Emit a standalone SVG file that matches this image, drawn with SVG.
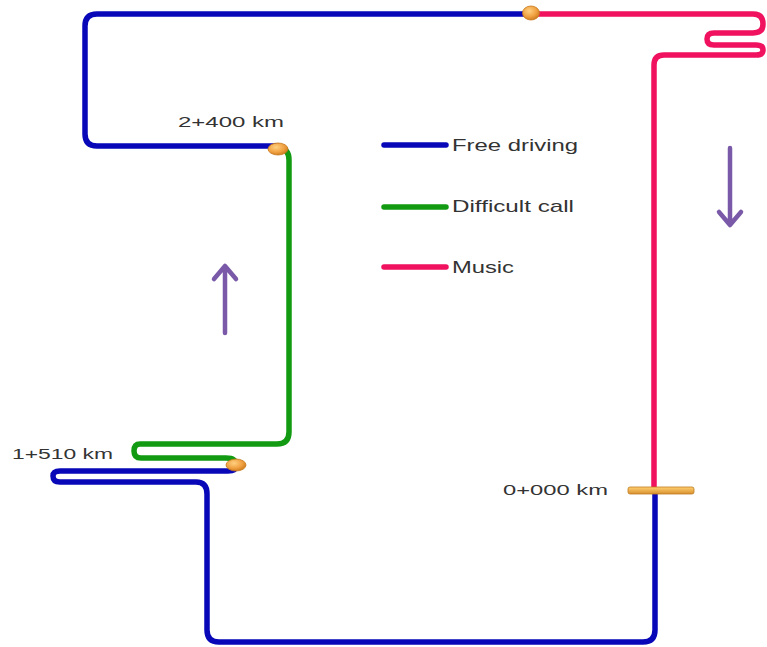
<svg xmlns="http://www.w3.org/2000/svg" width="767" height="647" viewBox="0 0 767 647">
<style>
.rd{fill:none;stroke-width:5.5;stroke-linecap:round;stroke-linejoin:round}
.b{stroke:#0808b8}.g{stroke:#129a12}.p{stroke:#f0125e}
.t{font-family:"Liberation Sans",Arial,sans-serif;font-size:15px;fill:#333}
.lg{font-size:17px}
.ar{fill:none;stroke:#7a5aa8;stroke-width:4.5;stroke-linecap:round;stroke-linejoin:round}
.ball{fill:url(#og);stroke:#c8781a;stroke-width:0.8}
</style>
<defs>
<radialGradient id="og" cx="0.4" cy="0.35" r="0.7">
<stop offset="0" stop-color="#ffd080"/><stop offset="0.6" stop-color="#f0a040"/><stop offset="1" stop-color="#c87818"/>
</radialGradient>
<linearGradient id="bar" x1="0" y1="0" x2="0" y2="1">
<stop offset="0" stop-color="#ffd070"/><stop offset="1" stop-color="#d89030"/>
</linearGradient>
</defs>
<g id="connectors">
<path class="rd b" d="M530,14 H97 Q85,14 85,26 V134 Q85,146 97,146 H278"/>
<path class="rd p" d="M531,14 H753 Q763,14 763,24 Q763,33 753,33 H714 Q707,33 707,39 Q707,45 714,45 H756 Q763,45 763,50 Q763,55 756,55 H664 Q654,55 654,65 V490"/>
<path class="rd g" d="M278,148 Q289,148 289,160 V432 Q289,444 277,444 H140 Q134,444 134,451 Q134,458 141,458 H226 Q236,458 236,465"/>
<path class="rd b" d="M236,466 Q236,471 228,471 H60 Q53,471 53,476 Q53,482 60,482 H196 Q207,482 207,494 V630 Q207,642 219,642 H643 Q655,642 655,630 V490"/>
</g>
<g id="ball-top"><ellipse class="ball" cx="531" cy="13" rx="8.5" ry="7"/></g>
<g id="ball-2400"><ellipse class="ball" cx="278" cy="149" rx="10" ry="6"/></g>
<g id="ball-1510"><ellipse class="ball" cx="236" cy="465" rx="10" ry="6"/></g>
<g id="marker-0000"><rect x="628" y="487" width="66" height="7" rx="2" fill="url(#bar)" stroke="#c07a20" stroke-width="0.8"/></g>
<g id="label-2400"><text class="t" x="178" y="127" textLength="106" lengthAdjust="spacingAndGlyphs">2+400 km</text></g>
<g id="label-1510"><text class="t" x="12" y="459" textLength="101" lengthAdjust="spacingAndGlyphs">1+510 km</text></g>
<g id="label-0000"><text class="t" x="503" y="495" textLength="105" lengthAdjust="spacingAndGlyphs">0+000 km</text></g>
<g id="legend">
<line class="rd b" x1="384" y1="145" x2="446" y2="145"/>
<text class="t lg" x="452" y="151" textLength="126" lengthAdjust="spacingAndGlyphs">Free driving</text>
<line class="rd g" x1="384" y1="207" x2="446" y2="207"/>
<text class="t lg" x="452" y="212" textLength="122" lengthAdjust="spacingAndGlyphs">Difficult call</text>
<line class="rd p" x1="384" y1="267" x2="446" y2="267"/>
<text class="t lg" x="452" y="273" textLength="62" lengthAdjust="spacingAndGlyphs">Music</text>
</g>
<g id="arrow-up"><path class="ar" d="M225,333 V267 M214,279 L225,266 L236,279"/></g>
<g id="arrow-down"><path class="ar" d="M730,148 V224 M719,212 L730,225 L741,212"/></g>
</svg>
